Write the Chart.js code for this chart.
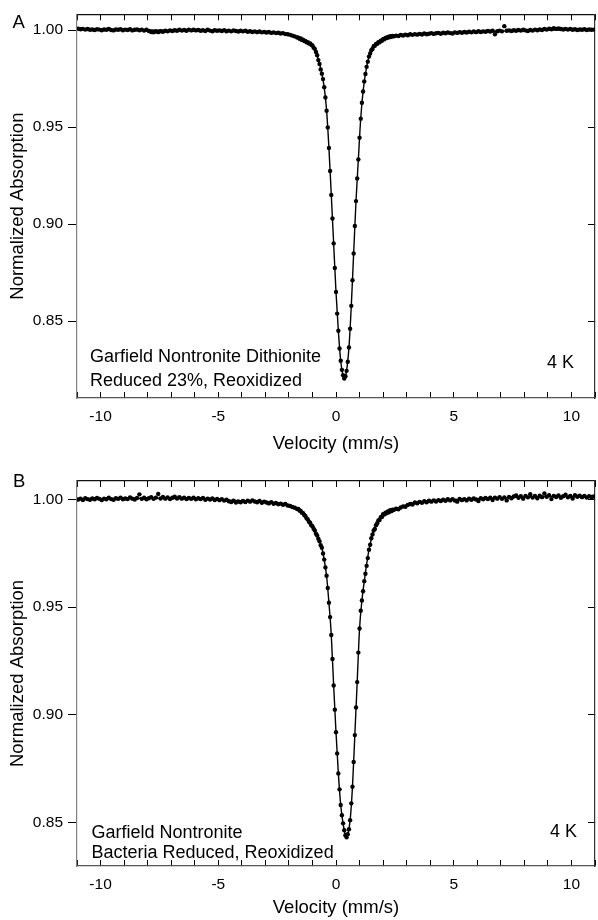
<!DOCTYPE html>
<html>
<head>
<meta charset="utf-8">
<script src="https://cdn.jsdelivr.net/npm/chart.js@4.4.1/dist/chart.umd.min.js"></script>
<style>
  html, body { margin: 0; padding: 0; background: #fff; overflow: hidden; width: 598px; height: 920px; }
  canvas { position: absolute; left: 0; }
  #panelA { top: 0; }
  #panelB { top: 460px; }
</style>
</head>
<body>
<canvas id="panelA" width="610" height="460"></canvas>
<canvas id="panelB" width="610" height="460"></canvas>
<script>
// velocity channels: baseline every 0.1 mm/s, dip region every 0.05 mm/s
const leftStart = -10.95, dipStart = -1.6, rightStart = 2.45

// Panel A - dithionite reduced 23%, reoxidized
const leftA = [
  1.0008, 1.0005, 1.0007, 1.0003, 1.0006, 1.0002, 1.0004, 1.0001, 1.0005, 1.0003,
  1.0000, 1.0004, 1.0002, 1.0006, 1.0001, 0.9999, 1.0004, 1.0002, 1.0005, 1.0000,
  1.0003, 1.0001, 1.0005, 0.9999, 1.0002, 1.0004, 1.0000, 1.0003, 0.9998, 1.0002,
  0.9996, 0.9991, 0.9989, 0.9993, 0.9990, 0.9995, 0.9992, 0.9997, 0.9994, 0.9999,
  0.9996, 1.0000, 0.9997, 1.0002, 0.9998, 1.0001, 0.9997, 1.0003, 0.9999, 1.0002,
  0.9999, 1.0001, 0.9997, 1.0000, 0.9996, 1.0002, 0.9998, 0.9995, 1.0000, 0.9997,
  0.9999, 0.9996, 1.0000, 0.9995, 0.9998, 0.9994, 0.9999, 0.9996, 0.9993, 0.9997,
  0.9994, 0.9997, 0.9992, 0.9995, 0.9991, 0.9994, 0.9990, 0.9993, 0.9989, 0.9991,
  0.9988, 0.9991, 0.9986, 0.9989, 0.9985, 0.9987, 0.9983, 0.9985, 0.9980, 0.9979,
  0.9976, 0.9972, 0.9968, 0.9963
]
const dipA = [
  0.9961, 0.9956, 0.9957, 0.9950, 0.9951, 0.9944, 0.9945, 0.9938, 0.9938, 0.9932,
  0.9932, 0.9925, 0.9921, 0.9910, 0.9904, 0.9888, 0.9871, 0.9846, 0.9826, 0.9798,
  0.9776, 0.9748, 0.9706, 0.9653, 0.9585, 0.9499, 0.9393, 0.9274, 0.9151, 0.9029,
  0.8901, 0.8774, 0.8651, 0.8539, 0.8451, 0.8359, 0.8296, 0.8249, 0.8221, 0.8204,
  0.8216, 0.8244, 0.8291, 0.8364, 0.8461, 0.8579, 0.8711, 0.8849, 0.8991, 0.9119,
  0.9236, 0.9334, 0.9446, 0.9544, 0.9626, 0.9684, 0.9736, 0.9774, 0.9811, 0.9838,
  0.9864, 0.9880, 0.9897, 0.9903, 0.9917, 0.9920, 0.9929, 0.9930, 0.9938, 0.9938,
  0.9946, 0.9946, 0.9954, 0.9953, 0.9960, 0.9959, 0.9965, 0.9963, 0.9969, 0.9966,
  0.9971
]
const rightA = [
  0.9968, 0.9972, 0.9970, 0.9975, 0.9973, 0.9977, 0.9974, 0.9979, 0.9976, 0.9980,
  0.9977, 0.9981, 0.9978, 0.9983, 0.9979, 0.9982, 0.9985, 0.9981, 0.9984, 0.9986,
  0.9982, 0.9987, 0.9984, 0.9988, 0.9985, 0.9983, 0.9989, 0.9986, 0.9990, 0.9987,
  0.9991, 0.9988, 0.9992, 0.9989, 0.9993, 0.9990, 0.9995, 0.9991, 0.9994, 0.9992,
  0.9996, 0.9993, 0.9997, 0.9979, 0.9995, 0.9998, 0.9994, 1.0021, 0.9997, 0.9999,
  0.9996, 1.0000, 0.9997, 1.0001, 0.9998, 1.0002, 0.9999, 0.9996, 1.0001, 0.9998,
  1.0003, 1.0000, 1.0004, 1.0001, 1.0006, 1.0003, 1.0008, 1.0005, 1.0010, 1.0007,
  1.0009, 1.0006, 1.0004, 1.0007, 1.0003, 1.0006, 1.0002, 1.0005, 1.0001, 1.0004,
  1.0002, 1.0005, 1.0001, 1.0004, 1.0002, 1.0003
]
const fitVelA = [-11, -8, -6, -4, -3, -2.5, -2, -1.6, -1.3, -1.0, -0.8, -0.6, -0.5, -0.4, -0.3, -0.2, -0.1, 0,
  0.1, 0.2, 0.3, 0.36, 0.45, 0.55, 0.65, 0.75, 0.85, 0.95, 1.05, 1.15, 1.3, 1.5, 1.8, 2.2, 3, 5, 8, 11]
const fitA = [1.0004, 1.0001, 0.9999, 0.9996, 0.9991, 0.9986, 0.9978, 0.9959, 0.9944, 0.9920, 0.9870, 0.9775,
  0.9705, 0.9588, 0.9392, 0.9150, 0.8900, 0.8650, 0.8450, 0.8295, 0.8220, 0.8203, 0.8245, 0.8365, 0.8580,
  0.8850, 0.9120, 0.9335, 0.9545, 0.9685, 0.9810, 0.9896, 0.9937, 0.9963, 0.9978, 0.9988, 0.9999, 1.0004]

// Panel B - bacteria reduced, reoxidized
const leftB = [
  1.0000, 1.0004, 0.9998, 1.0006, 1.0002, 0.9999, 1.0005, 1.0001, 1.0007, 1.0003,
  0.9998, 1.0004, 1.0001, 1.0008, 1.0002, 0.9999, 1.0006, 1.0003, 1.0009, 1.0001,
  1.0005, 1.0002, 1.0010, 1.0004, 1.0000, 1.0007, 1.0024, 1.0003, 1.0008, 1.0001,
  1.0006, 1.0011, 1.0003, 1.0009, 1.0026, 1.0005, 1.0012, 1.0004, 1.0010, 1.0002,
  1.0008, 1.0013, 1.0005, 1.0011, 1.0004, 1.0009, 1.0002, 1.0007, 1.0003, 1.0008,
  1.0001, 1.0006, 1.0002, 1.0007, 0.9999, 1.0004, 1.0000, 1.0005, 0.9998, 1.0003,
  0.9997, 1.0002, 0.9995, 0.9999, 0.9992, 0.9988, 0.9994, 0.9986, 0.9991, 0.9987,
  0.9993, 0.9988, 0.9995, 0.9990, 0.9996, 0.9991, 0.9987, 0.9993, 0.9985, 0.9990,
  0.9986, 0.9982, 0.9988, 0.9980, 0.9984, 0.9978, 0.9981, 0.9976, 0.9979, 0.9972,
  0.9970, 0.9965, 0.9962, 0.9956
]
const dipB = [
  0.9956, 0.9949, 0.9947, 0.9939, 0.9937, 0.9928, 0.9924, 0.9913, 0.9908, 0.9897,
  0.9892, 0.9881, 0.9876, 0.9864, 0.9856, 0.9841, 0.9833, 0.9818, 0.9806, 0.9788,
  0.9776, 0.9749, 0.9721, 0.9684, 0.9646, 0.9589, 0.9521, 0.9454, 0.9371, 0.9259,
  0.9136, 0.9024, 0.8919, 0.8821, 0.8728, 0.8654, 0.8581, 0.8534, 0.8496, 0.8464,
  0.8441, 0.8431, 0.8446, 0.8469, 0.8511, 0.8589, 0.8666, 0.8781, 0.8906, 0.9034,
  0.9152, 0.9289, 0.9401, 0.9484, 0.9531, 0.9574, 0.9621, 0.9655, 0.9692, 0.9728,
  0.9767, 0.9790, 0.9820, 0.9838, 0.9856, 0.9863, 0.9881, 0.9890, 0.9903, 0.9905,
  0.9918, 0.9919, 0.9932, 0.9930, 0.9939, 0.9936, 0.9945, 0.9941, 0.9950, 0.9946,
  0.9953
]
const rightB = [
  0.9951, 0.9957, 0.9955, 0.9963, 0.9968, 0.9966, 0.9975, 0.9979, 0.9977, 0.9986,
  0.9983, 0.9989, 0.9985, 0.9992, 0.9987, 0.9994, 0.9990, 0.9996, 0.9991, 0.9997,
  0.9993, 0.9999, 0.9994, 1.0001, 0.9996, 1.0002, 0.9995, 0.9990, 1.0003, 0.9997,
  1.0002, 0.9996, 1.0004, 0.9999, 1.0005, 1.0000, 0.9993, 1.0006, 1.0001, 1.0007,
  1.0002, 1.0008, 0.9998, 1.0009, 1.0004, 1.0011, 1.0003, 1.0010, 0.9996, 1.0012,
  1.0006, 1.0014, 1.0019, 1.0008, 1.0015, 1.0004, 1.0017, 1.0010, 1.0025, 1.0009,
  1.0016, 1.0006, 1.0018, 1.0011, 1.0028, 1.0013, 1.0020, 1.0002, 1.0017, 1.0012,
  1.0019, 1.0008, 1.0015, 1.0022, 1.0010, 1.0017, 1.0005, 1.0020, 1.0013, 1.0018,
  1.0011, 1.0016, 1.0009, 1.0015, 1.0012, 1.0014
]
const fitVelB = [-11, -8, -6, -4, -3, -2.5, -2, -1.6, -1.3, -1.0, -0.8, -0.6, -0.5, -0.4, -0.3, -0.2, -0.1, 0,
  0.1, 0.2, 0.3, 0.4, 0.45, 0.5, 0.6, 0.7, 0.8, 0.9, 1.0, 1.1, 1.2, 1.4, 1.6, 1.8, 2.1, 2.6, 3.3, 4.7, 7, 9, 11]
const fitB = [1.0003, 1.0006, 1.0004, 0.9994, 0.9990, 0.9984, 0.9974, 0.9955, 0.9923, 0.9875, 0.9832, 0.9775,
  0.9720, 0.9645, 0.9520, 0.9370, 0.9136, 0.8919, 0.8728, 0.8581, 0.8496, 0.8441, 0.8432, 0.8445, 0.8510,
  0.8666, 0.8906, 0.9152, 0.9400, 0.9530, 0.9620, 0.9766, 0.9855, 0.9902, 0.9936, 0.9960, 0.9985, 0.9998,
  1.0008, 1.0014, 1.0014]

const xTickLabels = [-10, -5, 0, 5, 10]
const yTickLabels = [0.85, 0.90, 0.95, 1.00]

const FONT = '"Liberation Sans", Arial, sans-serif'

function channels(start, step, n) {
  const out = []
  for (let i = 0; i < n; i++) out.push(Math.round((start + i * step) * 1000) / 1000)
  return out
}

function toPoints(vels, vals) {
  return vals.map((y, i) => ({ x: vels[i], y: y }))
}

function spectrum(left, dip, right) {
  return [
    ...toPoints(channels(leftStart, 0.1, left.length), left),
    ...toPoints(channels(dipStart, 0.05, dip.length), dip),
    ...toPoints(channels(rightStart, 0.1, right.length), right),
  ]
}

// annotation text drawn on the canvas after the chart
const textPlugin = {
  id: 'panelText',
  afterDraw(chart, args, opts) {
    const ctx = chart.ctx
    ctx.save()
    ctx.fillStyle = '#000'
    ctx.textBaseline = 'alphabetic'
    ctx.textAlign = 'left'
    opts.items.forEach(t => {
      ctx.font = t.size + 'px ' + FONT
      ctx.fillText(t.text, t.x, t.y)
    })
    ctx.restore()
  },
}

function makePanel(id, cfg) {
  const tickFont = { family: FONT, size: 15.5 }
  const titleFont = { family: FONT, size: 18.5 }
  new Chart(document.getElementById(id), {
    type: 'scatter',
    data: {
      datasets: [
        {
          data: cfg.points,
          pointRadius: 2.2,
          pointBackgroundColor: '#000',
          pointBorderWidth: 0,
          showLine: false,
          order: 0,
        },
        {
          data: toPoints(cfg.fitVel, cfg.fit),
          showLine: true,
          pointRadius: 0,
          borderColor: '#000',
          borderWidth: 1.4,
          cubicInterpolationMode: 'monotone',
          order: 1,
        },
      ],
    },
    options: {
      responsive: false,
      animation: false,
      events: [],
      layout: { padding: 0 },
      plugins: {
        legend: { display: false },
        tooltip: { enabled: false },
        panelText: { items: cfg.texts },
      },
      scales: {
        x: {
          type: 'linear',
          position: 'bottom',
          min: -11,
          max: 11,
          ticks: {
            stepSize: 1,
            autoSkip: false,
            maxRotation: 0,
            padding: 15,
            color: '#000',
            font: tickFont,
            callback: v => (xTickLabels.includes(v) ? String(v) : ''),
          },
          grid: { drawOnChartArea: false, tickLength: -6, color: '#000', tickWidth: 1 },
          border: { color: '#555', width: 1.2 },
          title: {
            display: true,
            text: 'Velocity (mm/s)',
            color: '#000',
            font: titleFont,
            padding: { top: 0, bottom: cfg.titlePad },
          },
          afterFit: s => { s.height = cfg.bottomH },
        },
        xTop: {
          type: 'linear',
          position: 'top',
          min: -11,
          max: 11,
          ticks: { display: false, stepSize: 1, autoSkip: false },
          grid: { drawOnChartArea: false, tickLength: -6, color: '#000' },
          border: { color: '#111', width: 1.2 },
          afterFit: s => { s.height = cfg.topH },
        },
        y: {
          position: 'left',
          min: cfg.yMin,
          max: cfg.yMax,
          ticks: {
            stepSize: 0.05,
            includeBounds: false,
            padding: 5,
            color: '#000',
            font: tickFont,
            callback: v => {
              const hit = yTickLabels.find(t => Math.abs(t - v) < 1e-6)
              return hit === undefined ? '' : hit.toFixed(2)
            },
          },
          grid: { drawOnChartArea: false, tickLength: 9, color: '#000' },
          border: { color: '#808080', width: 1.2 },
          title: {
            display: true,
            text: 'Normalized Absorption',
            color: '#000',
            font: titleFont,
            padding: { top: 7, bottom: 0 },
          },
          afterFit: s => { s.width = 77 },
        },
        yRight: {
          position: 'right',
          min: cfg.yMin,
          max: cfg.yMax,
          ticks: { display: false, stepSize: 0.05, includeBounds: false },
          grid: { drawOnChartArea: false, tickLength: -7, color: '#000' },
          border: { color: '#333', width: 1.2 },
          afterFit: s => { s.width = 10 },
        },
      },
    },
    plugins: [textPlugin],
  })
}

makePanel('panelA', {
  points: spectrum(leftA, dipA, rightA),
  fitVel: fitVelA,
  fit: fitA,
  yMin: 0.8104,
  yMax: 1.0082,
  topH: 13,
  bottomH: 62,
  titlePad: 4.5,
  texts: [
    { text: 'A', x: 12.5, y: 28.3, size: 18.5 },
    { text: 'Garfield Nontronite Dithionite', x: 90, y: 361.7, size: 18 },
    { text: 'Reduced 23%, Reoxidized', x: 90, y: 385.7, size: 18 },
    { text: '4 K', x: 547, y: 368.3, size: 18 },
  ],
})

makePanel('panelB', {
  points: spectrum(leftB, dipB, rightB),
  fitVel: fitVelB,
  fit: fitB,
  yMin: 0.8298,
  yMax: 1.0086,
  topH: 21,
  bottomH: 54,
  titlePad: 1,
  texts: [
    { text: 'B', x: 13, y: 26.7, size: 18.5 },
    { text: 'Garfield Nontronite', x: 91.5, y: 377.5, size: 18 },
    { text: 'Bacteria Reduced, Reoxidized', x: 91.5, y: 398, size: 18 },
    { text: '4 K', x: 550, y: 377, size: 18 },
  ],
})
</script>
</body>
</html>
